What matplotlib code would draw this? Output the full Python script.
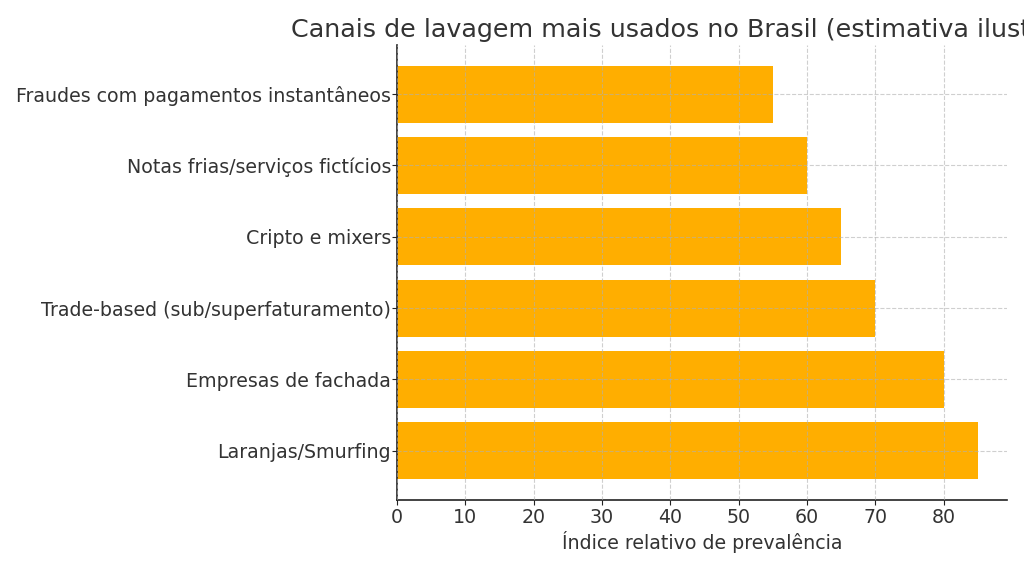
import matplotlib
matplotlib.use("Agg")
import matplotlib.pyplot as plt

# canais e indice (estimativa)
canais = [
    "Laranjas/Smurfing",
    "Empresas de fachada",
    "Trade-based (sub/superfaturamento)",
    "Cripto e mixers",
    "Notas frias/serviços fictícios",
    "Fraudes com pagamentos instantâneos",
]
indice = [85, 80, 70, 65, 60, 55]

cor_barra = "#FFAE00"
cor_texto = "#333333"

plt.rcParams["font.family"] = "DejaVu Sans"

fig = plt.figure(figsize=(10.24, 5.69), dpi=100)
ax = fig.add_axes([0.3877, 0.1213, 0.5957, 0.7997])

ax.barh(canais, indice, height=0.8, color=cor_barra, zorder=2)

ax.set_title("Canais de lavagem mais usados no Brasil (estimativa ilustrativa)",
             fontsize=18.3, color=cor_texto, pad=6)
ax.set_xlabel("Índice relativo de prevalência", fontsize=13.7, color=cor_texto,
              labelpad=3)

ax.grid(True, linestyle="--", color="#b0b0b0", alpha=0.6, linewidth=0.8, zorder=3)
ax.set_axisbelow(False)

for side in ("top", "right"):
    ax.spines[side].set_visible(False)
for side in ("left", "bottom"):
    ax.spines[side].set_color("#222222")
    ax.spines[side].set_linewidth(1.2)

ax.tick_params(axis="both", labelsize=13.7, colors=cor_texto)
ax.tick_params(axis="both", color="#222222")
ax.tick_params(axis="y", pad=0.8)
ax.tick_params(axis="x", pad=2.5)

fig.savefig("out.png", dpi=100)
